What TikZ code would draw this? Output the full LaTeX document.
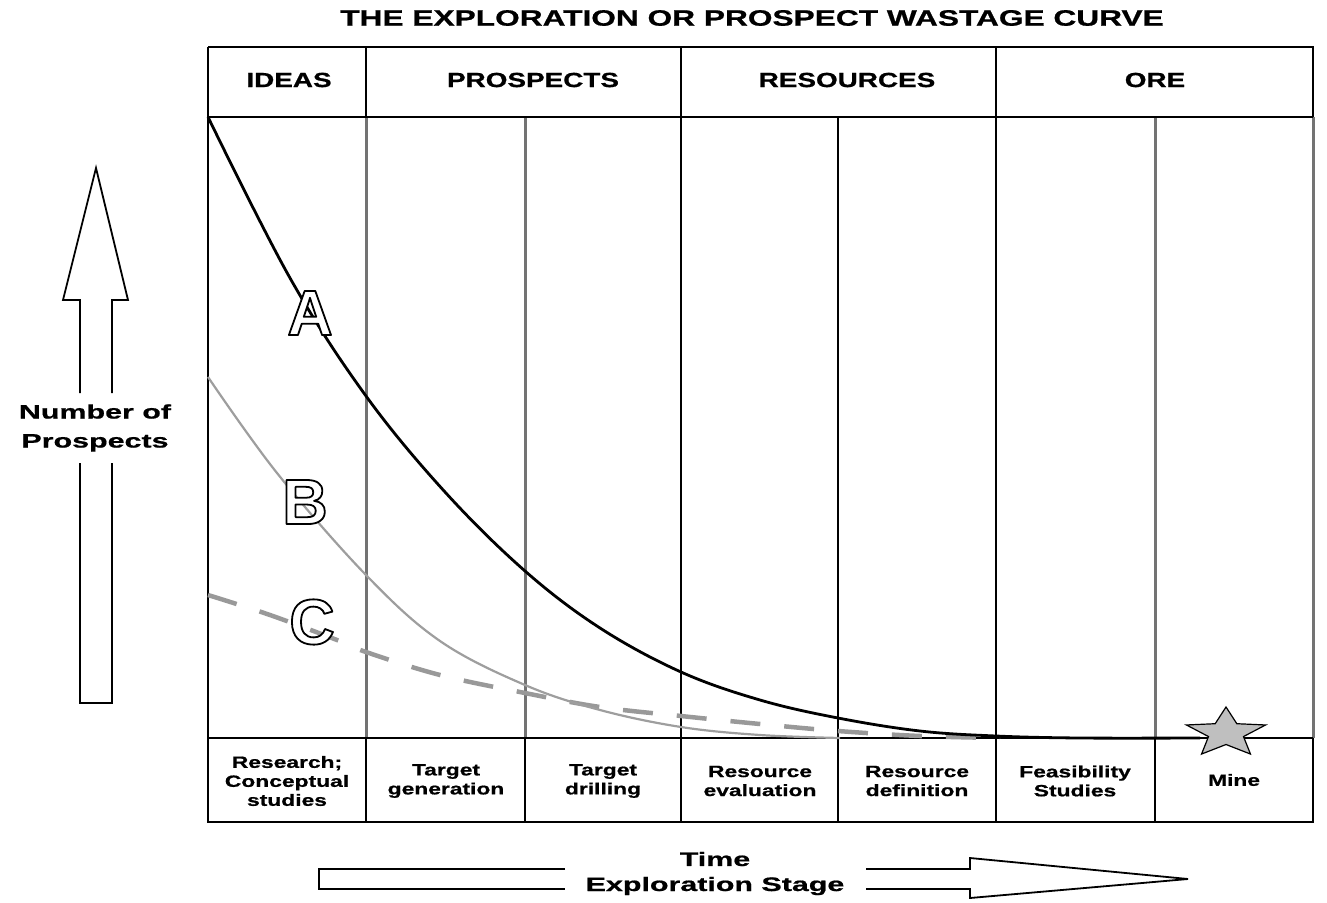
\documentclass[tikz,border=0pt]{standalone}
\usepackage{fontspec}
\usetikzlibrary{calc}
\setmainfont{Liberation Sans}
\newfontfamily\titlefont[FakeStretch=1.42,BoldFeatures={FakeBold=0.8}]{Liberation Sans}
\newfontfamily\headfont[FakeStretch=1.36,BoldFeatures={FakeBold=0.8}]{Liberation Sans}
\newfontfamily\cellfont[FakeStretch=1.40,BoldFeatures={FakeBold=0.8}]{Liberation Sans}
\newfontfamily\axisfont[FakeStretch=1.56,BoldFeatures={FakeBold=0.8}]{Liberation Sans}
\newfontfamily\letterfont[FakeStretch=0.98]{Liberation Sans}
\definecolor{gridgray}{gray}{0.45}
\definecolor{curveB}{gray}{0.62}
\definecolor{curveC}{gray}{0.6}
\definecolor{starfill}{gray}{0.75}
% outlined glyphs: white fill, black stroke (text render mode 2)
\newcommand{\outlined}[1]{\color{white}\special{pdf:literal direct 0 G 1.8 w 1 j 2 Tr}#1\special{pdf:literal direct 0 Tr}}
\begin{document}
\begin{tikzpicture}[x=1pt,y=-1pt,
  frame/.style={line width=1.9pt,black},
  softline/.style={line width=3pt,gridgray},
  titletext/.style={font=\titlefont\bfseries\fontsize{22.3}{26}\selectfont},
  headtext/.style={font=\headfont\bfseries\fontsize{20.5}{24}\selectfont},
  celltext/.style={font=\cellfont\bfseries\fontsize{16.3}{19}\selectfont,align=center},
  axistext/.style={font=\axisfont\bfseries\fontsize{19.5}{29}\selectfont,align=center},
  bigletter/.style={font=\letterfont\bfseries\fontsize{64}{64}\selectfont,inner sep=0pt},
  hollow/.style={line width=1.8pt,black,line join=miter},
  curveA/.style={line width=2.8pt,black},
  curveb/.style={line width=2.2pt,curveB},
  curvec/.style={line width=4.5pt,curveC,dash pattern=on 30pt off 24pt}]
\useasboundingbox (0,0) rectangle (1327,902);

% title
\node[titletext] (title) at (752,18) {THE EXPLORATION OR PROSPECT WASTAGE CURVE};

% chart lines inside the plot area
\foreach \x in {366,525,1155,1313} \draw[softline] (\x,117) -- (\x,738);
\foreach \x in {681,838,996} \draw[frame] (\x,117) -- (\x,738);

% table frame, header and stage rows
\draw[frame] (208,47) -- (1313,47) -- (1313,117);
\draw[frame] (208,47) -- (208,822) -- (1313,822) -- (1313,738);
\draw[frame] (208,117) -- (1313,117);
\draw[frame] (208,738) -- (1313,738);
\foreach \x in {366,681,996} \draw[frame] (\x,47) -- (\x,117);
\foreach \x in {366,525,681,838,996,1155} \draw[frame] (\x,738) -- (\x,822);

% header labels
\node[headtext] (ideas) at (289,80) {IDEAS};
\node[headtext] (prospects) at (533,80) {PROSPECTS};
\node[headtext] (resources) at (847,80) {RESOURCES};
\node[headtext] (ore) at (1155,80) {ORE};

% stage labels
\node[celltext] (s1) at (287,781) {Research;\\Conceptual\\studies};
\node[celltext] (s2) at (446,781) {Target\\generation};
\node[celltext] (s3) at (603,781) {Target\\drilling};
\node[celltext] (s4) at (760,781) {Resource\\evaluation};
\node[celltext] (s5) at (917,781) {Resource\\definition};
\node[celltext] (s6) at (1075,781) {Feasibility\\Studies};
\node[celltext] (s7) at (1234,780) {Mine};

% wastage curves
\draw[curvec] plot[smooth,tension=0.6] coordinates {(208,595) (270,615) (337,640) (366,652) (440,675) (525,693) (600,707) (681,716) (760,724) (838,731) (920,736) (1000,738)};
\draw[curveb] plot[smooth,tension=0.6] coordinates {(208,377) (277,473) (366,575) (440,641) (525,685) (600,710) (681,727) (760,735) (840,738)};
\draw[curveA] plot[smooth,tension=0.6] coordinates {(208,117) (290,278) (366,396) (445,492) (525,571) (600,628) (681,672) (760,700) (838,718) (920,731) (996,736) (1080,738) (1200,738)};

% hollow curve letters
\node[bigletter] (lblA) at (310,313) {\outlined{A}};
\node[bigletter] (lblB) at (305,502) {\outlined{B}};
\node[bigletter] (lblC) at (312,622) {\outlined{C}};

% star marking the mine
\coordinate (starc) at (1226,733);
\fill[starfill,draw=black,line width=1.2pt,line join=miter]
  ($(starc)+(-90:26)$)
  \foreach \k in {0,...,4}{
    -- ($(starc)+({1.6*11.5*cos(-54+72*\k)},{11.5*sin(-54+72*\k)})$)
    -- ($(starc)+({1.6*26*cos(-18+72*\k)},{26*sin(-18+72*\k)})$)
  } -- cycle;

% vertical axis arrow
\node[axistext] (nprosp) at (95,428) {Number of\\Prospects};
\draw[hollow] (80,393) -- (80,300) -- (63,300) -- (96,168) -- (128,300) -- (112,300) -- (112,393);
\draw[hollow] (112,463) -- (112,703) -- (80,703) -- (80,463);

% horizontal time arrow
\node[axistext] (time) at (715,859) {Time};
\node[axistext] (stage) at (715,886) {Exploration Stage};
\draw[hollow] (565,869) -- (319,869) -- (319,889) -- (565,889);
\draw[hollow] (866,869) -- (970,869) -- (970,858) -- (1188,879) -- (970,898) -- (970,889) -- (866,889);
\end{tikzpicture}
\end{document}
